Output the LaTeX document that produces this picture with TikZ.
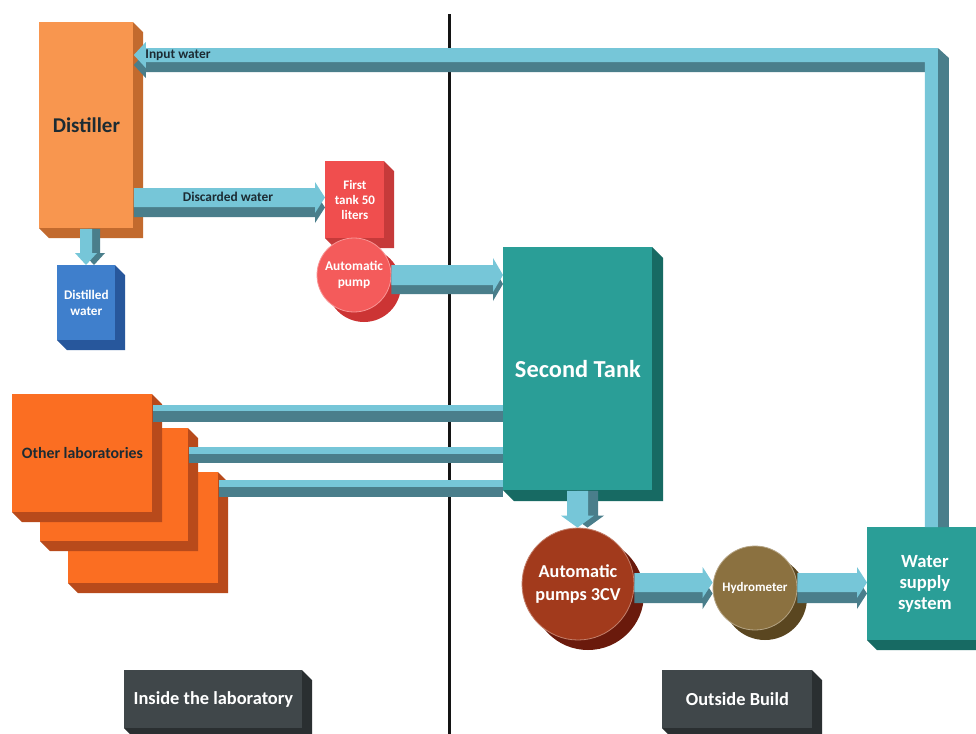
\documentclass[tikz,border=0pt]{standalone}
\usepackage{fontspec}
\setmainfont{Carlito}
\usetikzlibrary{calc}
\definecolor{pipelight}{HTML}{76C6D8}
\definecolor{pipedark}{HTML}{4A7E8B}
\definecolor{distfront}{HTML}{F8964F}
\definecolor{distside}{HTML}{C26A2E}
\definecolor{tankfront}{HTML}{F04E4E}
\definecolor{tankside}{HTML}{C63A3A}
\definecolor{pumpfront}{HTML}{F45B5B}
\definecolor{pumpside}{HTML}{CC3434}
\definecolor{dwfront}{HTML}{3F7FCC}
\definecolor{dwside}{HTML}{27579C}
\definecolor{labfront}{HTML}{FB6E22}
\definecolor{labside}{HTML}{B84A1B}
\definecolor{tealfront}{HTML}{2A9E97}
\definecolor{tealside}{HTML}{176A63}
\definecolor{cvfront}{HTML}{A23A1C}
\definecolor{cvside}{HTML}{6A1A0C}
\definecolor{hydfront}{HTML}{8B7140}
\definecolor{hydside}{HTML}{5A4620}
\definecolor{grayfront}{HTML}{40474A}
\definecolor{grayside}{HTML}{2A2F31}
\definecolor{textdark}{HTML}{1C2B33}

\newcommand\fsz[2]{\fontsize{#1}{#2}\selectfont}

% 3D box: name, x1, y1, x2, y2, front style, side colour, depth, text
\newcommand\boxthreed[9]{%
  \fill[#7] (#2,#3) -- (#4,#3) -- (#4+#8,#3+#8) -- (#4+#8,#5+#8) -- (#2+#8,#5+#8) -- (#2,#5) -- cycle;
  \node[#6, minimum width={(#4-#2)*0.5pt}, minimum height={(#5-#3)*0.5pt}, inner sep=0pt, anchor=north west, align=center] (#1) at (#2,#3) {#9};
}
% 3D disc: name, cx, cy, r, front style, side colour, depth, text
\newcommand\circthreed[8]{%
  \fill[#6] (#2+#7,#3+#7) circle[radius={#4*0.5pt}];
  \node[#5, circle, inner sep=0pt, minimum size={#4*1pt}, align=center] (#1) at (#2,#3) {#8};
}
% 3D arrow to the right: from, to, ytop, ybot, depth, head extra
\newcommand\arrR[6]{%
  \foreach \dy/\col in {#5/pipedark,0/pipelight}{%
    \fill[\col] let \p1=(#1), \p2=(#2) in
      (\x1,{-(#3+\dy)*0.5pt}) -- (\x2-5pt,{-(#3+\dy)*0.5pt}) -- (\x2-5pt,{-(#3-#6+\dy)*0.5pt})
      -- (\x2,{-((#3+#4)/2+\dy)*0.5pt}) -- (\x2-5pt,{-(#4+#6+\dy)*0.5pt})
      -- (\x2-5pt,{-(#4+\dy)*0.5pt}) -- (\x1,{-(#4+\dy)*0.5pt}) -- cycle;}%
}
% 3D arrow downwards: from, to, xleft, xright, depth, head extra
\newcommand\arrD[6]{%
  \foreach \dx/\col in {#5/pipedark,0/pipelight}{%
    \fill[\col] let \p1=(#1), \p2=(#2) in
      ({(#3+\dx)*0.5pt},\y1) -- ({(#3+\dx)*0.5pt},\y2+6pt) -- ({(#3-#6+\dx)*0.5pt},\y2+6pt)
      -- ({((#3+#4)/2+\dx)*0.5pt},\y2) -- ({(#4+#6+\dx)*0.5pt},\y2+6pt)
      -- ({(#4+\dx)*0.5pt},\y2+6pt) -- ({(#4+\dx)*0.5pt},\y1) -- cycle;}%
}

\tikzset{
  distf/.style={fill=distfront, text=textdark, font=\bfseries\fsz{10.5}{13}},
  tankf/.style={fill=tankfront, text=white, font=\bfseries\fsz{6.5}{7.5}},
  pumpf/.style={fill=pumpfront, text=white, draw=white!35!pumpfront, line width=0.4pt, font=\bfseries\fsz{6.7}{8}},
  dwf/.style={fill=dwfront, text=white, font=\bfseries\fsz{6.6}{8}},
  labf/.style={fill=labfront, text=textdark, font=\bfseries\fsz{7.9}{9}},
  tankbig/.style={fill=tealfront, text=white, font=\bfseries\fsz{12.2}{14}},
  wssf/.style={fill=tealfront, text=white, font=\bfseries\fsz{9.3}{10.7}},
  cvf/.style={fill=cvfront, text=white, draw=white!35!cvfront, line width=0.4pt, font=\bfseries\fsz{9.1}{11.5}},
  hydf/.style={fill=hydfront, text=white, draw=white!35!hydfront, line width=0.4pt, font=\bfseries\fsz{6.5}{7}},
  grayf/.style={fill=grayfront, text=white, font=\bfseries\fsz{9.2}{10}},
  pipelabel/.style={text=textdark, font=\bfseries\fsz{6.7}{8}, inner sep=0pt},
  divider/.style={line width=1.5pt, draw=black!92},
}

\begin{document}
\begin{tikzpicture}[x=0.5pt,y=-0.5pt]
\useasboundingbox (0,0) rectangle (976,734);
\clip (0,0) rectangle (976,734);
\fill[white] (0,0) rectangle (976,734);

% divider
\coordinate (divtop) at (449,14);
\coordinate (divbot) at (449,734);
\draw[divider] (divtop) -- (divbot);

% boxes
\boxthreed{dist}{39}{22}{133}{228}{distf}{distside}{10}{Distiller}
\boxthreed{tank1}{325}{161}{384}{238}{tankf}{tankside}{10}{First\\tank 50\\liters}
\boxthreed{dw}{57}{265}{115}{340}{dwf}{dwside}{10}{Distilled\\water}
\boxthreed{lab3}{68}{472}{218}{583}{labf}{labside}{10}{}
\boxthreed{lab2}{40}{428}{188}{541}{labf}{labside}{10}{}
\boxthreed{lab1}{12}{394}{152}{512}{labf}{labside}{10}{Other laboratories}
\boxthreed{tank2}{503}{247}{652}{490}{tankbig}{tealside}{11}{Second Tank}
\boxthreed{wss}{867}{527}{982}{640}{wssf}{tealside}{10}{Water\\supply\\system}
\boxthreed{inlab}{124}{670}{302}{728}{grayf}{grayside}{10}{Inside the laboratory}
\boxthreed{outb}{662}{670}{812}{728}{grayf}{grayside}{10}{Outside Build}

% discs
\circthreed{pump}{354}{275}{37}{pumpf}{pumpside}{10}{Automatic\\pump}
\circthreed{p3cv}{578}{584}{56}{cvf}{cvside}{10}{Automatic\\pumps 3CV}
\circthreed{hyd}{755}{588}{42}{hydf}{hydside}{10}{Hydrometer}

% input water pipe (water supply system -> distiller)
\fill[pipedark] let \p1=(dist.east), \p2=(wss.north) in
  (\x1,-32.5pt) -- (\x1+6pt,-26pt) -- (\x1+6pt,-29pt) -- (\x2+6.5pt,-29pt) -- (\x2+6.5pt,-36pt)
  -- (\x1+6pt,-36pt) -- (\x1+6pt,-39pt) -- cycle;
\fill[pipedark] let \p1=(dist.east), \p2=(wss.north) in
  (\x2+6.5pt,-24pt) -- (\x2+12pt,-29pt) -- (\x2+12pt,\y2) -- (\x2+6.5pt,\y2) -- cycle;
\fill[pipelight] let \p1=(dist.east), \p2=(wss.north) in
  (\x1,-27.5pt) -- (\x1+6pt,-21pt) -- (\x1+6pt,-24pt) -- (\x2+6.5pt,-24pt) -- (\x2+6.5pt,\y2)
  -- (\x2,\y2) -- (\x2,-31pt) -- (\x1+6pt,-31pt) -- (\x1+6pt,-34pt) -- cycle;
\node[pipelabel] (inlbl) at (178,55) {Input water};

% discarded water
\arrR{dist.east}{tank1.west}{188}{207}{10}{6}
\node[pipelabel] (dislbl) at (228,197) {Discarded water};

% distilled water
\arrD{dist.south}{dw.north}{80}{92}{8}{5}

% pump -> second tank
\arrR{pump.east}{tank2.west}{265}{285}{9}{7}

% labs -> second tank
\fill[pipedark] (lab1.east |- 0,411) rectangle (tank2.west |- 0,422);
\fill[pipelight] (lab1.east |- 0,405) rectangle (tank2.west |- 0,411);
\fill[pipedark] (lab2.east |- 0,454) rectangle (tank2.west |- 0,463);
\fill[pipelight] (lab2.east |- 0,447) rectangle (tank2.west |- 0,454);
\fill[pipedark] (lab3.east |- 0,487) rectangle (tank2.west |- 0,497);
\fill[pipelight] (lab3.east |- 0,480) rectangle (tank2.west |- 0,487);

% second tank -> pumps 3CV
\arrD{tank2.south}{p3cv.north}{567}{588}{10}{6}

% pumps -> hydrometer -> water supply
\arrR{p3cv.east}{hyd.west}{573}{592}{11}{6}
\arrR{hyd.east}{wss.west}{573}{592}{11}{6}
\end{tikzpicture}
\end{document}
